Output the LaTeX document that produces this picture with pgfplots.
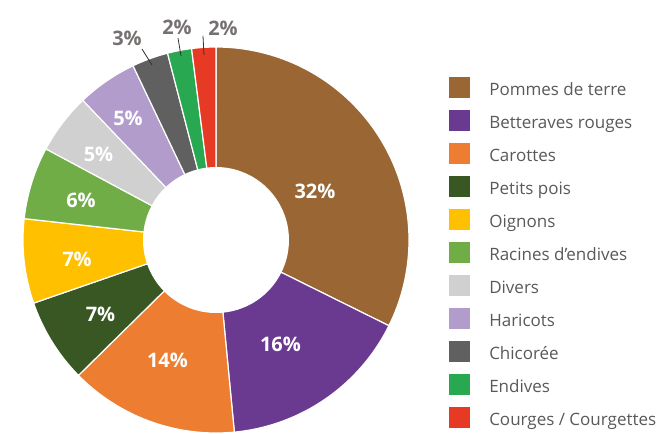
\documentclass[border=0pt]{standalone}
\usepackage{pgfplots}
\pgfplotsset{compat=1.18}
\usepackage{pgfplotstable}
\usepackage{fontspec}
\setmainfont{Open Sans}

\definecolor{c0}{HTML}{9A6634}
\definecolor{c1}{HTML}{6A3A91}
\definecolor{c2}{HTML}{ED7D31}
\definecolor{c3}{HTML}{385723}
\definecolor{c4}{HTML}{FFC000}
\definecolor{c5}{HTML}{70AD47}
\definecolor{c6}{HTML}{D0D0D0}
\definecolor{c7}{HTML}{B29CCC}
\definecolor{c8}{HTML}{606060}
\definecolor{c9}{HTML}{28A850}
\definecolor{c10}{HTML}{E63A24}
\definecolor{legtext}{HTML}{595959}
\definecolor{outlab}{HTML}{767171}

\pgfplotstableread[col sep=semicolon]{
name;value
Pommes de terre;32
Betteraves rouges;16
Carottes;14
Petits pois;7
Oignons;7
Racines d’endives;6
Divers;5
Haricots;5
Chicorée;3
Endives;2
Courges / Courgettes;2
}\data

\begin{document}
\begin{tikzpicture}
\begin{axis}[
  x=0.75pt, y=0.75pt,
  xmin=0, xmax=664, ymin=0, ymax=433,
  hide axis, clip=false,
  legend cell align=left,
  legend style={at={(axis cs:449,356)}, anchor=north west, draw=none, fill=none,
    inner sep=0pt, row sep=9pt,
    /tikz/every odd column/.append style={column sep=14.25pt},
    nodes={inner sep=0pt, anchor=west, text=legtext, font=\fontsize{12.75}{15}\selectfont}},
  legend image code/.code={\fill[#1,draw=none] (0pt,-6pt) rectangle (15.75pt,9.75pt);},
]
\path (axis cs:0,0) rectangle (axis cs:664,433);
\def\total{0}
\pgfplotsforeachungrouped \i in {0,...,10}{%
  \pgfplotstablegetelem{\i}{value}\of\data
  \pgfmathsetmacro\total{\total+\pgfplotsretval}%
}
\pgfmathsetmacro\unit{360/\total}
\def\cum{0}
\pgfplotsforeachungrouped \i in {0,...,10}{%
  \pgfplotstablegetelem{\i}{value}\of\data
  \let\myval\pgfplotsretval
  \pgfplotstablegetelem{\i}{name}\of\data
  \let\myname\pgfplotsretval
  \pgfmathsetmacro\astart{90-\unit*\cum}%
  \pgfmathsetmacro\cum{\cum+\myval}%
  \pgfmathsetmacro\aend{90-\unit*\cum}%
  \edef\cmd{\noexpand\addplot[fill=c\i, draw=white, line width=0.9pt, domain=\aend:\astart, samples=80]
    ({216+193*cos(x)},{193+193*sin(x)}) -- (axis cs:216,193) -- cycle;
    \noexpand\addlegendentry{\myname}}%
  \cmd
}
\addplot[fill=white, draw=none, domain=0:360, samples=120, forget plot]
  ({216+73*cos(x)},{193+73*sin(x)}) -- cycle;

\addplot[black!80, line width=0.6pt, forget plot] coordinates {(142,384) (152,368)};
\addplot[black!80, line width=0.6pt, forget plot] coordinates {(178,395) (181,377)};
\addplot[black!80, line width=0.6pt, forget plot] coordinates {(203,397) (204,378)};

\begin{scope}[every node/.style={inner sep=0pt, font=\bfseries\fontsize{15}{18}\selectfont, text=white}]
\node at (axis cs:315,242) {32\%};
\node at (axis cs:280.5,88.5) {16\%};
\node at (axis cs:167.5,72.5) {14\%};
\node at (axis cs:100.5,118.5) {7\%};
\node at (axis cs:77,173.5) {7\%};
\node at (axis cs:81,232.5) {6\%};
\node at (axis cs:98.5,278.5) {5\%};
\node at (axis cs:128,315) {5\%};
\node[text=outlab] at (axis cs:127,395) {3\%};
\node[text=outlab] at (axis cs:177,405.5) {2\%};
\node[text=outlab] at (axis cs:223,404.5) {2\%};
\end{scope}
\end{axis}
\end{tikzpicture}
\end{document}
